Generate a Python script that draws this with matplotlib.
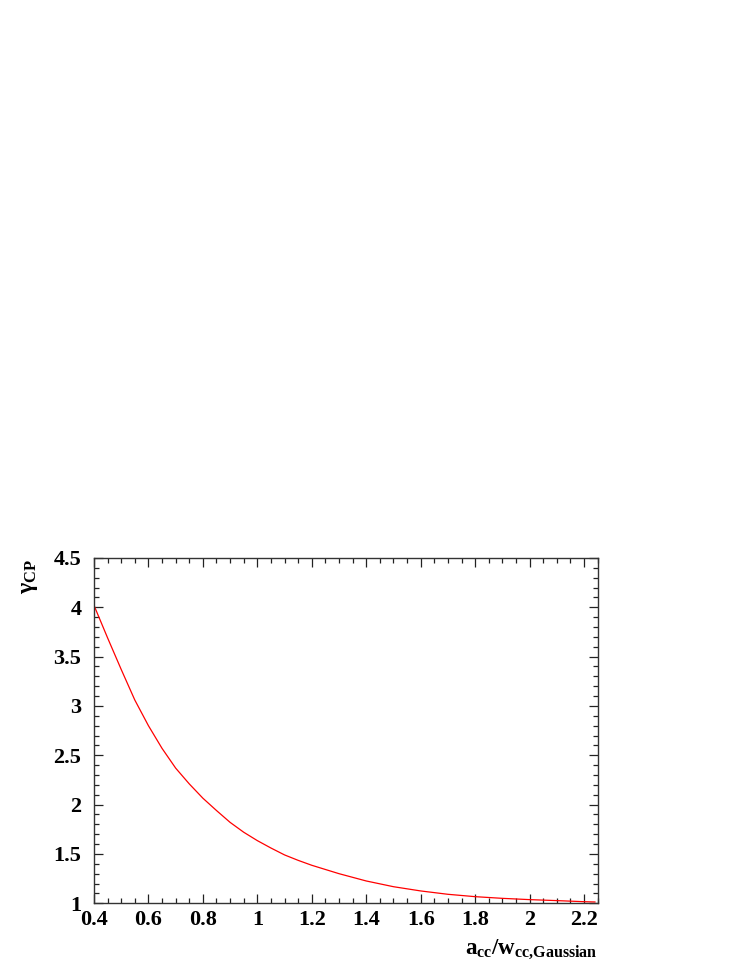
import matplotlib
matplotlib.use("Agg")
import matplotlib.pyplot as plt
from matplotlib.ticker import MultipleLocator

plt.rcParams["font.family"] = ["Liberation Serif", "DejaVu Serif"]
plt.rcParams["font.weight"] = "bold"
plt.rcParams["mathtext.fontset"] = "custom"
plt.rcParams["mathtext.rm"] = "Liberation Serif"
plt.rcParams["mathtext.bf"] = "Liberation Serif:bold"
plt.rcParams["mathtext.it"] = "Liberation Serif:italic"

# gamma_CP vs a_cc / w_cc,Gaussian
ratio = [0.40, 0.45, 0.50, 0.55, 0.60, 0.65, 0.70, 0.75, 0.80, 0.85, 0.90,
         0.95, 1.00, 1.05, 1.10, 1.15, 1.20, 1.30, 1.40, 1.50, 1.60, 1.70,
         1.80, 1.90, 2.00, 2.10, 2.20, 2.24]
gamma_cp = [4.02, 3.69, 3.37, 3.06, 2.80, 2.57, 2.37, 2.21, 2.065, 1.94, 1.82,
            1.72, 1.635, 1.56, 1.49, 1.435, 1.385, 1.30, 1.226, 1.168, 1.125,
            1.091, 1.067, 1.05, 1.037, 1.027, 1.016, 1.013]

fig = plt.figure(figsize=(7.47, 9.67), dpi=100)
ax = fig.add_axes([0.1258, 0.0659, 0.6743, 0.3571])

ax.plot(ratio, gamma_cp, color="red", lw=0.9)

ax.set_xlim(0.4, 2.25)
ax.set_ylim(1, 4.5)
ax.xaxis.set_major_locator(MultipleLocator(0.2))
ax.xaxis.set_minor_locator(MultipleLocator(0.05))
ax.yaxis.set_major_locator(MultipleLocator(0.5))
ax.yaxis.set_minor_locator(MultipleLocator(0.1))
ax.xaxis.set_major_formatter(plt.FuncFormatter(lambda v, p: f"{v:g}"))
ax.yaxis.set_major_formatter(plt.FuncFormatter(lambda v, p: f"{v:g}"))

ax.tick_params(which="both", direction="in", top=True, right=True,
               width=0.9, colors="#222222", labelcolor="black", labelsize=16)
ax.tick_params(which="major", length=6.7)
ax.tick_params(which="minor", length=3.3)
ax.tick_params(axis="x", pad=5)
ax.tick_params(axis="y", pad=9)
for s in ax.spines.values():
    s.set_linewidth(1.0)
    s.set_color("#333333")

fig.text(0.598 / 0.747, 0.0135, r"$\mathbf{a_{cc}/w_{cc{,}Gaussian}}$",
         ha="right", va="baseline", fontsize=16.5)
fig.text(0.040, 1 - 0.559 / 0.967, r"$\mathrm{\gamma}_{\mathbf{CP}}$",
         ha="center", va="top", rotation=90, fontsize=17)

fig.savefig("out.png", dpi=100)
